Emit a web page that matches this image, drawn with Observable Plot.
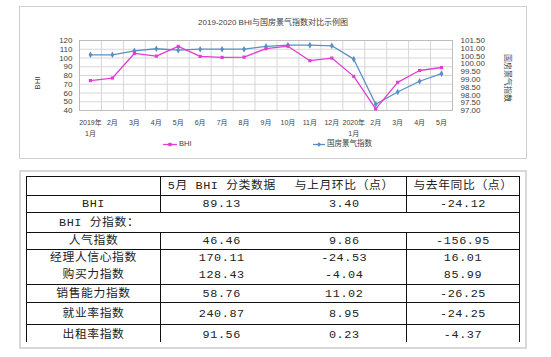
<!DOCTYPE html>
<html><head><meta charset="utf-8">
<script src="https://cdn.jsdelivr.net/npm/d3@7"></script>
<script src="https://cdn.jsdelivr.net/npm/@observablehq/plot@0.6"></script>
<style>
html,body{margin:0;padding:0;background:#fff;}
body{width:551px;height:357px;position:relative;overflow:hidden;font-family:"Liberation Sans","Noto Sans CJK SC",sans-serif;color:#333;}
.box{position:absolute;box-sizing:border-box;}
#chartbox{left:19px;top:6px;width:508px;height:153px;border:1px solid #cfcfcf;}
#tablebox{left:19px;top:170px;width:508px;height:179px;border:2px solid #d8d8d8;}
#plot{position:absolute;left:19px;top:6px;}
#title{position:absolute;left:19px;top:18px;width:508px;text-align:center;font-size:8px;line-height:10px;color:#404040;}
.ytitle{position:absolute;font-size:8px;line-height:10px;white-space:nowrap;color:#404040;transform:translate(-50%,-50%) rotate(-90deg);}
.legend{position:absolute;font-size:7.5px;line-height:10px;white-space:nowrap;color:#404040;display:flex;align-items:center;}
.legend svg{margin-right:2px;}
#tblwrap{position:absolute;left:26px;top:176px;width:494px;height:166px;overflow:hidden;}
#tbl{border-collapse:collapse;table-layout:fixed;width:493px;margin-left:0;}
#tbl td{border:1px solid #111;padding:0;text-align:center;vertical-align:middle;font-family:"Liberation Mono","Noto Sans CJK SC",monospace;font-size:11.8px;letter-spacing:0.6px;color:#222;white-space:nowrap;overflow:hidden;line-height:12px;}
#tbl td.c2{border-right-style:hidden;}
#tbl td.c3{border-left-style:hidden;}
#tbl tr.nobot td{border-bottom-style:hidden;}
#tbl tr.last td{border-bottom-style:hidden;}
#tbl td.sub{text-align:left;padding-left:32px;}
</style>
</head><body>
<div class="box" id="chartbox"></div>
<div class="box" id="tablebox"></div>
<div id="title">2019-2020 BHI与国房景气指数对比示例图</div>
<div id="plot"></div>
<div class="ytitle" style="left:38px;top:82.5px;">BHI</div>
<div class="ytitle" style="left:507px;top:78px;transform:translate(-50%,-50%) rotate(90deg);">国房景气指数</div>
<div class="legend" id="leg1" style="left:163px;top:139px;"></div>
<div class="legend" id="leg2" style="left:313px;top:139px;"></div>
<div id="tblwrap"><table id="tbl"></table></div>
<script>
// ---- chart data ----
const months = ["2019-01","2019-02","2019-03","2019-04","2019-05","2019-06","2019-07","2019-08","2019-09","2019-10","2019-11","2019-12","2020-01","2020-02","2020-03","2020-04","2020-05"];
const monthLabels = ["2019年\n1月","2月","3月","4月","5月","6月","7月","8月","9月","10月","11月","12月","2020年\n1月","2月","3月","4月","5月"];
const bhiValues = [74.2,77.1,105.2,102.1,113.25,101.8,100.7,101.0,110.6,113.5,96.9,99.9,79.0,41.8,72.2,85.73,89.13];
const climateValues = [100.58,100.58,100.83,100.97,100.88,100.94,100.94,100.94,101.12,101.20,101.20,101.16,100.30,97.40,98.19,98.88,99.37];
const leftTicks = [40,50,60,70,80,90,100,110,120];
const rightTicks = [97.00,97.50,98.00,98.50,99.00,99.50,100.00,100.50,101.00,101.50];
const seriesNames = ["BHI","国房景气指数"];

// ---- table data ----
const tableHeader = ["","5月 BHI 分类数据","与上月环比（点）","与去年同比（点）"];
const rowLabels = ["BHI","BHI 分指数：","人气指数","经理人信心指数","购买力指数","销售能力指数","就业率指数","出租率指数"];
const mayValues = ["89.13","","46.46","170.11","128.43","58.76","240.87","91.56"];
const momValues = ["3.40","","9.86","-24.53","-4.04","11.02","8.95","0.23"];
const yoyValues = ["-24.12","","-156.95","16.01","85.99","-26.25","-24.25","-4.37"];

const pink = "#e43cd4", blue = "#5a8fc4";
const lo = 97, hi = 101.5, ylo = 40, yhi = 120;
const toLeft = v => ylo + (v - lo) * (yhi - ylo) / (hi - lo);
const fromLeft = y => lo + (y - ylo) * (hi - lo) / (yhi - ylo);

const idx = d3.range(months.length);
const bhiData = idx.map(i => ({i, v: bhiValues[i]}));
const clData = idx.map(i => ({i, v: toLeft(climateValues[i])}));

const chart = Plot.plot({
  width: 508, height: 153,
  marginLeft: 60, marginRight: 75, marginTop: 34, marginBottom: 49,
  x: {domain: [-0.5, months.length - 0.5], axis: null},
  y: {domain: [ylo, yhi]},
  style: {fontFamily: '"Liberation Sans","Noto Sans CJK SC",sans-serif', fontSize: "8px", color: "#404040", background: "transparent"},
  marks: [
    Plot.ruleY(leftTicks, {stroke: "#d6d6d6", strokeWidth: 1}),
    Plot.ruleX(d3.range(months.length + 1), {x: i => i - 0.5, stroke: "#d6d6d6", strokeWidth: 1}),
    Plot.frame({stroke: "#bdbdbd"}),
    Plot.axisY(leftTicks, {anchor: "left", tickSize: 0, tickPadding: 7, label: null, fontSize: 8}),
    Plot.axisY(rightTicks.map(toLeft), {anchor: "right", tickSize: 0, tickPadding: 8, label: null, fontSize: 8, textAnchor: "start",
      tickFormat: d => fromLeft(d).toFixed(2)}),
    Plot.text(idx, {x: i => i, text: i => monthLabels[i], frameAnchor: "bottom", lineAnchor: "top", dy: 6, lineHeight: 1.65, fontSize: 7, fill: "#404040"}),
    Plot.line(clData, {x: "i", y: "v", stroke: blue, strokeWidth: 1.3}),
    Plot.dot(clData, {x: "i", y: "v", symbol: "diamond", r: 2, fill: blue, stroke: "none"}),
    Plot.line(bhiData, {x: "i", y: "v", stroke: pink, strokeWidth: 1.3}),
    Plot.dot(bhiData, {x: "i", y: "v", symbol: "square", r: 1.8, fill: pink, stroke: "none"})
  ]
});
document.getElementById("plot").appendChild(chart);

function swatch(color, sym, w) {
  const c = w / 2;
  const mk = sym === "square"
    ? `<rect x="${c - 1.7}" y="1.8" width="3.4" height="3.4" fill="${color}"/>`
    : `<path d="M${c} 1.2 L${c + 2.2} 3.5 L${c} 5.8 L${c - 2.2} 3.5Z" fill="${color}"/>`;
  return `<svg width="${w}" height="7"><line x1="0" y1="3.5" x2="${w}" y2="3.5" stroke="${color}" stroke-width="1.3"/>${mk}</svg>`;
}
document.getElementById("leg1").innerHTML = swatch(pink, "square", 14) + "<span>" + seriesNames[0] + "</span>";
document.getElementById("leg2").innerHTML = swatch(blue, "diamond", 12) + "<span>" + seriesNames[1] + "</span>";

// ---- table ----
const colWidths = [134, 122, 124, 113];
const rowHeights = [19, 17, 20, 17, 17, 18, 18, 22, 20];
const tbl = document.getElementById("tbl");
let html = "<colgroup>" + colWidths.map(w => `<col style="width:${w}px">`).join("") + "</colgroup>";
html += `<tr style="height:${rowHeights[0]}px">` + tableHeader.map((h, j) => `<td class="c${j+1}">${h}</td>`).join("") + "</tr>";
rowLabels.forEach((lab, r) => {
  const h = rowHeights[r + 1];
  let cls = "";
  if (lab === "经理人信心指数") cls = "nobot";
  if (r === rowLabels.length - 1) cls = "last";
  if (mayValues[r] === "" && momValues[r] === "") {
    html += `<tr class="${cls}" style="height:${h}px"><td class="sub" colspan="4">${lab}</td></tr>`;
  } else {
    html += `<tr class="${cls}" style="height:${h}px"><td class="c1">${lab}</td><td class="c2">${mayValues[r]}</td><td class="c3">${momValues[r]}</td><td class="c4">${yoyValues[r]}</td></tr>`;
  }
});
tbl.innerHTML = html;
</script>
</body></html>
